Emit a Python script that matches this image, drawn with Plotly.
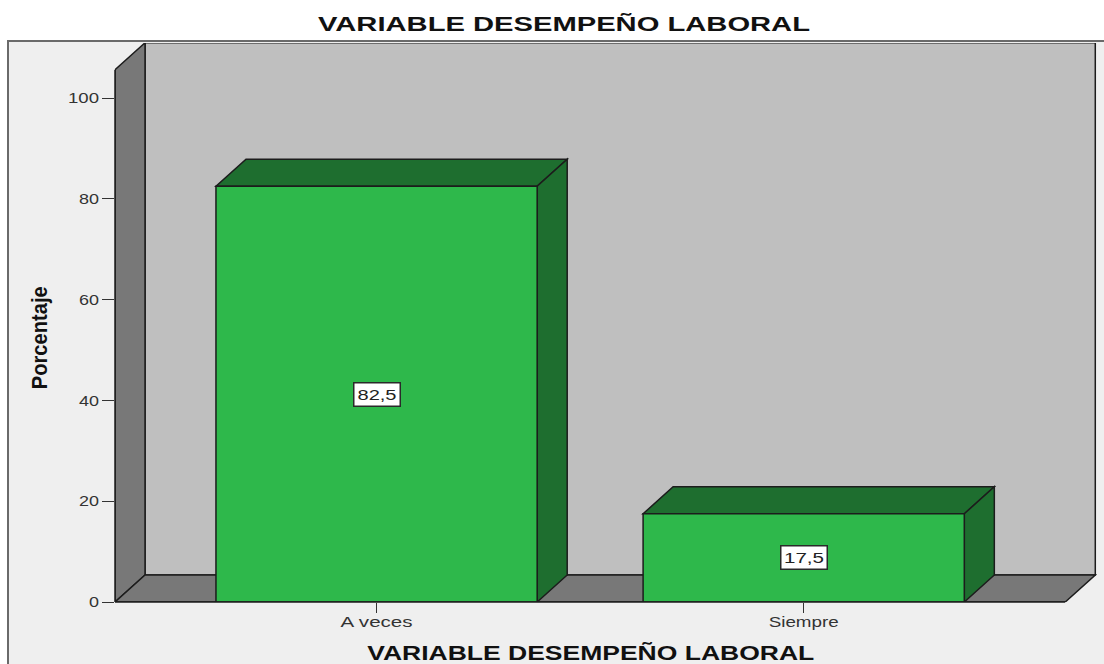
import json
import plotly.graph_objs as go

# Datos del grafico
categorias = ["A veces", "Siempre"]
porcentajes = [82.5, 17.5]
etiquetas = ["82,5", "17,5"]
y_ticks = [0, 20, 40, 60, 80, 100]
titulo = "VARIABLE DESEMPEÑO LABORAL"

# Colores
VERDE = "#2EB84B"
VERDE_OSCURO = "#1E6E2F"
GRIS_FONDO = "#BFBFBF"
GRIS_LADO = "#787878"
BORDE = "#1c1c1c"

# Efecto 3D en unidades de los ejes
ANCHO_BARRA = 0.752
DX = 0.0703
DY = 5.36
X_MIN = -0.6124
X_MAX = 1.6124
Y_TOP_FRENTE = 105.6

ANCHO, ALTO = 1104, 664
M_IZQ, M_DER, M_SUP, M_INF = 115, 7, 43, 62
plot_w = ANCHO - M_IZQ - M_DER
plot_h = ALTO - M_SUP - M_INF

FUENTE = "Liberation Sans"

# El original tiene el texto estirado a lo ancho: ancho en pixeles de cada texto
anchos_texto = {
    titulo: 492, "A veces": 72, "Siempre": 70, "100": 31, "80": 20, "60": 20,
    "40": 20, "20": 20, "0": 10, "82,5": 39, "17,5": 40, "Porcentaje": 103,
}
ancho_titulo_x = 447


def px_x(p):
    return (p - M_IZQ) / plot_w


def px_y(p):
    return (ALTO - M_INF - p) / plot_h


def poligono(puntos, color):
    path = "M " + " L ".join(f"{x},{y}" for x, y in puntos) + " Z"
    return dict(type="path", path=path, xref="x", yref="y", fillcolor=color,
                line=dict(color=BORDE, width=1.5), layer="below")


shapes = [
    # fondo gris claro con marco
    dict(type="rect", xref="paper", yref="paper", x0=px_x(8), x1=px_x(1110),
         y0=px_y(670), y1=px_y(41), fillcolor="#EFEFEF",
         line=dict(color="#6a6a6a", width=2), layer="below"),
    # pared de fondo
    poligono([(X_MIN + DX, DY), (X_MAX + DX, DY), (X_MAX + DX, Y_TOP_FRENTE + DY), (X_MIN + DX, Y_TOP_FRENTE + DY)], GRIS_FONDO),
    # pared izquierda
    poligono([(X_MIN, 0), (X_MIN + DX, DY), (X_MIN + DX, Y_TOP_FRENTE + DY), (X_MIN, Y_TOP_FRENTE)], GRIS_LADO),
    # piso
    poligono([(X_MIN, 0), (X_MAX, 0), (X_MAX + DX, DY), (X_MIN + DX, DY)], GRIS_LADO),
]

# Caras superior y lateral de cada barra
for i, valor in enumerate(porcentajes):
    izq = i - ANCHO_BARRA / 2
    der = i + ANCHO_BARRA / 2
    shapes.append(poligono([(izq, valor), (der, valor), (der + DX, valor + DY), (izq + DX, valor + DY)], VERDE_OSCURO))
    shapes.append(poligono([(der, 0), (der + DX, DY), (der + DX, valor + DY), (der, valor)], VERDE_OSCURO))

# Bordes del frente que el area del grafico recortaria
shapes.append(dict(type="line", xref="x", yref="paper", x0=X_MIN, x1=X_MAX, y0=0, y1=0,
                   line=dict(color=BORDE, width=1.5)))
shapes.append(dict(type="line", xref="paper", yref="y", x0=0, x1=0, y0=0, y1=Y_TOP_FRENTE,
                   line=dict(color=BORDE, width=1.5)))

barras = go.Bar(
    x=list(range(len(categorias))),
    y=porcentajes,
    width=ANCHO_BARRA,
    marker=dict(color=VERDE, line=dict(color=BORDE, width=1.5)),
    hoverinfo="skip",
)

anotaciones = [
    dict(x=i, y=v / 2, xref="x", yref="y", text=t, showarrow=False, bgcolor="white",
         bordercolor="#2a2a2a", borderwidth=1.5, width=43, height=20,
         font=dict(family=FUENTE, size=15, color="#222222"))
    for i, (v, t) in enumerate(zip(porcentajes, etiquetas))
]
anotaciones.append(dict(x=px_x(590), y=px_y(653), xref="paper", yref="paper", text=titulo,
                        showarrow=False, xanchor="center", yanchor="middle",
                        font=dict(family=FUENTE, size=20, weight=700, color="#111111")))
anotaciones.append(dict(x=px_x(39), y=px_y(338), xref="paper", yref="paper", text="Porcentaje",
                        showarrow=False, textangle=-90, xanchor="center", yanchor="middle",
                        font=dict(family=FUENTE, size=22, weight=700, color="#111111")))

layout = go.Layout(
    title=dict(text=titulo, x=564 / ANCHO, xref="container", xanchor="center",
               y=1 - 24 / ALTO, yref="container", yanchor="middle",
               font=dict(family=FUENTE, size=21, weight=700, color="#111111")),
    width=ANCHO,
    height=ALTO,
    margin=dict(l=M_IZQ, r=M_DER, t=M_SUP, b=M_INF),
    paper_bgcolor="white",
    plot_bgcolor="rgba(0,0,0,0)",
    showlegend=False,
    shapes=shapes,
    annotations=anotaciones,
    xaxis=dict(range=[X_MIN, X_MAX + DX + 0.004], tickmode="array", tickvals=list(range(len(categorias))),
               ticktext=categorias, ticks="outside", ticklen=10, tickcolor="#333333", showgrid=False,
               zeroline=False, showline=False, ticklabelstandoff=-4,
               tickfont=dict(family=FUENTE, size=15, color="#333333")),
    yaxis=dict(range=[0, (ALTO - M_INF - M_SUP) / 5.04], tickmode="array", tickvals=y_ticks,
               ticks="outside", ticklen=12, tickcolor="#333333", showgrid=False, zeroline=False,
               showline=False, tickfont=dict(family=FUENTE, size=15, color="#333333")),
)

fig = go.Figure(data=[barras], layout=layout)

post = """
document.body.style.margin = '0';
document.body.style.overflow = 'hidden';
var anchos = %s;
var anchoTituloX = %d;
document.querySelectorAll('svg text').forEach(function (t) {
    var w = anchos[t.textContent];
    if (w) {
        // el mismo texto abajo (anotacion) es mas angosto que el titulo
        if (t.classList.contains('annotation-text') && w === anchos[%s]) {
            w = anchoTituloX;
        }
        t.setAttribute('textLength', w);
        t.setAttribute('lengthAdjust', 'spacingAndGlyphs');
    }
});
""" % (json.dumps(anchos_texto, ensure_ascii=False), ancho_titulo_x, json.dumps(titulo, ensure_ascii=False))

fig.write_html("out.html", config={"displayModeBar": False}, post_script=post)
